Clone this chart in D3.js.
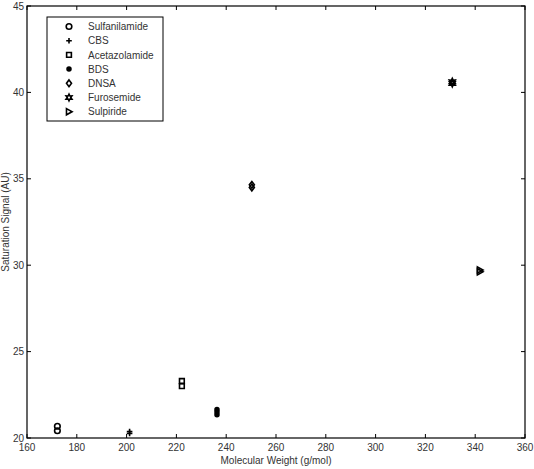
<!DOCTYPE html>
<html><head><meta charset="utf-8">
<script src="https://cdn.jsdelivr.net/npm/d3@7"></script>
<style>body{margin:0;background:#fff}text{font-family:"Liberation Sans",Arial,sans-serif}</style>
</head><body><svg id="c" width="534" height="469"></svg>
<script>
const compounds = ["Sulfanilamide","CBS","Acetazolamide","BDS","DNSA","Furosemide","Sulpiride"];
const symbols = ["circle","plus","square","dot","diamond","hexagram","triangleRight"];
const molWeight = [172.2, 201.2, 222.2, 236.3, 250.3, 330.8, 341.9];
const signalReps = [
  [20.42, 20.68],
  [20.27, 20.38],
  [23.0, 23.3],
  [21.35, 21.5, 21.65],
  [34.5, 34.65],
  [40.52, 40.62],
  [29.62, 29.72]
];
const xTicks = [160,180,200,220,240,260,280,300,320,340,360];
const yTicks = [20,25,30,35,40,45];

const svg = d3.select("#c");
const L=27, R=525, T=6, B=438;
const x = d3.scaleLinear().domain([160,360]).range([L,R]);
const y = d3.scaleLinear().domain([20,45]).range([B,T]);
const ink = "#000", tc = "#333";

function sym(type, r){
  const p = d3.path();
  switch(type){
    case "circle": p.arc(0,0,r,0,2*Math.PI); break;
    case "plus": p.moveTo(-r,0);p.lineTo(r,0);p.moveTo(0,-r);p.lineTo(0,r); break;
    case "square": p.rect(-r*0.85,-r*0.85,r*1.7,r*1.7); break;
    case "dot": p.arc(0,0,r*0.7,0,2*Math.PI); break;
    case "diamond": p.moveTo(0,-r*1.2);p.lineTo(r*0.9,0);p.lineTo(0,r*1.2);p.lineTo(-r*0.9,0);p.closePath(); break;
    case "hexagram": {
      const pts=[];
      for(let i=0;i<12;i++){const a=-Math.PI/2+i*Math.PI/6;const rr=i%2===0?r*1.2:r*0.62;pts.push([rr*Math.cos(a),rr*Math.sin(a)]);}
      p.moveTo(...pts[0]);pts.slice(1).forEach(q=>p.lineTo(...q));p.closePath(); break;
    }
    case "triangleRight": p.moveTo(-r*0.9,-r*1.1);p.lineTo(r*1.1,0);p.lineTo(-r*0.9,r*1.1);p.closePath(); break;
  }
  return p.toString();
}
function drawSym(g, type, cx, cy){
  const isFill = type==="dot";
  g.append("path").attr("d", sym(type,2.8)).attr("transform",`translate(${cx},${cy})`)
    .attr("fill", isFill?ink:"none").attr("stroke", ink).attr("stroke-width", 1.6);
}

svg.append("rect").attr("x",L).attr("y",T).attr("width",R-L).attr("height",B-T)
  .attr("fill","none").attr("stroke",ink).attr("stroke-width",1.2);

const tl = 4;
const gx = svg.append("g");
xTicks.forEach(v=>{
  gx.append("line").attr("x1",x(v)).attr("x2",x(v)).attr("y1",B).attr("y2",B-tl).attr("stroke",ink);
  gx.append("line").attr("x1",x(v)).attr("x2",x(v)).attr("y1",T).attr("y2",T+tl).attr("stroke",ink);
  gx.append("text").attr("x",x(v)).attr("y",B+13).attr("text-anchor","middle").attr("font-size",10).attr("fill",tc).text(v);
});
yTicks.forEach(v=>{
  gx.append("line").attr("x1",L).attr("x2",L+tl).attr("y1",y(v)).attr("y2",y(v)).attr("stroke",ink);
  gx.append("line").attr("x1",R).attr("x2",R-tl).attr("y1",y(v)).attr("y2",y(v)).attr("stroke",ink);
  gx.append("text").attr("x",L-3).attr("y",y(v)+3.5).attr("text-anchor","end").attr("font-size",10).attr("fill",tc).text(v);
});

svg.append("text").attr("x",(L+R)/2).attr("y",464).attr("text-anchor","middle").attr("font-size",10).attr("fill",tc).text("Molecular Weight (g/mol)");
svg.append("text").attr("transform",`translate(9,${(T+B)/2}) rotate(-90)`).attr("text-anchor","middle").attr("font-size",10).attr("fill",tc).text("Saturation Signal (AU)");

const gp = svg.append("g");
compounds.forEach((c,i)=>{
  signalReps[i].forEach(v=> drawSym(gp, symbols[i], x(molWeight[i]), y(v)));
});

const lg = svg.append("g");
lg.append("rect").attr("x",47).attr("y",17).attr("width",116).attr("height",104).attr("fill","#fff").attr("stroke",ink).attr("stroke-width",1);
compounds.forEach((c,i)=>{
  const cy = 26.5 + i*14.2;
  drawSym(lg, symbols[i], 69, cy);
  lg.append("text").attr("x",88).attr("y",cy+3.6).attr("font-size",10).attr("fill",tc).text(c);
});
</script></body></html>
